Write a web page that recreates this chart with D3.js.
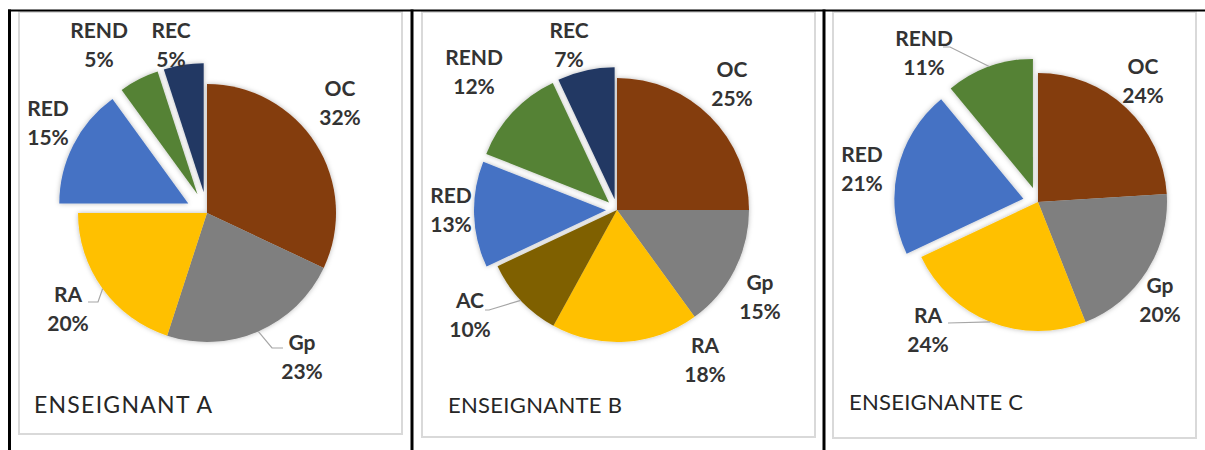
<!DOCTYPE html>
<html>
<head>
<meta charset="utf-8">
<script src="https://cdn.jsdelivr.net/npm/d3@7"></script>
<style>
  body { margin: 0; background: #fff; }
  text { font-family: Lato, "Open Sans", sans-serif; }
</style>
</head>
<body>
<script>
// categories and percentages
var categories = ["OC", "Gp", "RA", "AC", "RED", "REND", "REC"];
var valuesA = [32, 23, 20, 0, 15, 5, 5];
var valuesB = [25, 15, 18, 10, 13, 12, 7];
var valuesC = [24, 20, 24, 0, 21, 11, 0];
var titles = ["ENSEIGNANT A", "ENSEIGNANTE B", "ENSEIGNANTE C"];
var explodedCats = ["RED", "REND", "REC"];

var colors = {
    OC: "#843C0C",
    Gp: "#7F7F7F",
    RA: "#FFC000",
    AC: "#7F6000",
    RED: "#4472C4",
    REND: "#548235",
    REC: "#203864"
};

var w = 1205;
var h = 450;

// layout of each panel
var panels = [{
        values: valuesA, cx: 207, cy: 213, r: 129, explode: 21,
        box: [19, 12, 402, 434], titleX: 34, titleY: 413, titleSize: 23, titleLen: 178,
        labels: { OC: [340, 96], Gp: [302, 350], RA: [68, 302], RED: [48, 116], REND: [99, 38], REC: [171, 38] },
        leaders: { Gp: [[272, 348], [283, 348]], RA: [[98, 302], [88, 302]] }
    },
    {
        values: valuesB, cx: 617, cy: 210, r: 132, explode: 11,
        box: [422, 12, 815, 437], titleX: 448, titleY: 413, titleSize: 22, titleLen: 174,
        labels: { OC: [732, 77], Gp: [760, 290], RA: [705, 353], AC: [470, 308], RED: [451, 203], REND: [474, 65], REC: [569, 38] },
        leaders: { AC: [[489, 310], [485, 310]] }
    },
    {
        values: valuesC, cx: 1038, cy: 202, r: 129, explode: 15,
        box: [833, 12, 1196, 438], titleX: 849, titleY: 410, titleSize: 22, titleLen: 174,
        labels: { OC: [1143, 74], Gp: [1160, 293], RA: [928, 323], RED: [862, 162], REND: [924, 46] },
        leaders: { RA: [[948, 323]], REND: [[950, 47], [943, 47]] }
    }
];

var svg = d3.select("body")
    .append("svg")
    .attr("width", w)
    .attr("height", h);

var defs = svg.append("defs");
defs.append("filter")
    .attr("id", "shadow")
    .attr("x", "-20%").attr("y", "-20%")
    .attr("width", "140%").attr("height", "140%")
    .append("feDropShadow")
    .attr("dx", 0).attr("dy", 0)
    .attr("stdDeviation", 2.5)
    .attr("flood-color", "#000")
    .attr("flood-opacity", 0.28);

// gray chart frames
panels.forEach(function(p) {
    svg.append("rect")
        .attr("x", p.box[0])
        .attr("y", p.box[1])
        .attr("width", p.box[2] - p.box[0])
        .attr("height", p.box[3] - p.box[1])
        .attr("fill", "none")
        .attr("stroke", "#d9d9d9")
        .attr("stroke-width", 2);
});

// black table lines
svg.append("line")
    .attr("x1", 8).attr("x2", w)
    .attr("y1", 10.5).attr("y2", 10.5)
    .attr("stroke", "#000").attr("stroke-width", 2);
[9.5, 412, 824].forEach(function(x) {
    svg.append("line")
        .attr("x1", x).attr("x2", x)
        .attr("y1", 9.5).attr("y2", h)
        .attr("stroke", "#000").attr("stroke-width", 3);
});

var pie = d3.pie()
    .sort(null)
    .value(function(d) { return d.value; });

panels.forEach(function(p) {
    var data = categories.map(function(c, i) {
        return { cat: c, value: p.values[i] };
    }).filter(function(d) { return d.value > 0; });

    var arcs = pie(data);
    var arc = d3.arc().innerRadius(0).outerRadius(p.r);
    var edge = d3.arc().innerRadius(p.r).outerRadius(p.r);

    function offset(d) {
        if (explodedCats.indexOf(d.data.cat) < 0) return [0, 0];
        var a = (d.startAngle + d.endAngle) / 2;
        return [Math.sin(a) * p.explode, -Math.cos(a) * p.explode];
    }

    var g = svg.append("g")
        .attr("transform", "translate(" + p.cx + "," + p.cy + ")");

    // slices that stay in place, drawn as one shaded group
    g.append("g")
        .attr("filter", "url(#shadow)")
        .selectAll("path")
        .data(arcs.filter(function(d) { return explodedCats.indexOf(d.data.cat) < 0; }))
        .enter()
        .append("path")
        .attr("d", arc)
        .attr("fill", function(d) { return colors[d.data.cat]; });

    // exploded slices
    g.selectAll("path.exp")
        .data(arcs.filter(function(d) { return explodedCats.indexOf(d.data.cat) >= 0; }))
        .enter()
        .append("path")
        .attr("class", "exp")
        .attr("filter", "url(#shadow)")
        .attr("transform", function(d) {
            var o = offset(d);
            return "translate(" + o[0] + "," + o[1] + ")";
        })
        .attr("d", arc)
        .attr("fill", function(d) { return colors[d.data.cat]; });

    // leader lines
    arcs.forEach(function(d) {
        var pts = p.leaders[d.data.cat];
        if (!pts) return;
        var o = offset(d);
        var c = edge.centroid(d);
        var start = [p.cx + c[0] + o[0], p.cy + c[1] + o[1]];
        svg.append("path")
            .attr("d", d3.line()([start].concat(pts)))
            .attr("fill", "none")
            .attr("stroke", "#a6a6a6")
            .attr("stroke-width", 1.2);
    });

    // data labels
    arcs.forEach(function(d) {
        var pos = p.labels[d.data.cat];
        var t = svg.append("text")
            .attr("x", pos[0])
            .attr("y", pos[1])
            .attr("text-anchor", "middle")
            .attr("font-size", 21)
            .attr("font-weight", "bold")
            .attr("fill", "#333");
        t.append("tspan").attr("x", pos[0]).text(d.data.cat);
        t.append("tspan").attr("x", pos[0]).attr("dy", 29).text(d.value + "%");
    });
});

// titles
panels.forEach(function(p, i) {
    svg.append("text")
        .attr("x", p.titleX)
        .attr("y", p.titleY)
        .attr("font-size", p.titleSize)
        .attr("fill", "#262626")
        .attr("textLength", p.titleLen)
        .attr("lengthAdjust", "spacing")
        .text(titles[i]);
});
</script>
</body>
</html>
